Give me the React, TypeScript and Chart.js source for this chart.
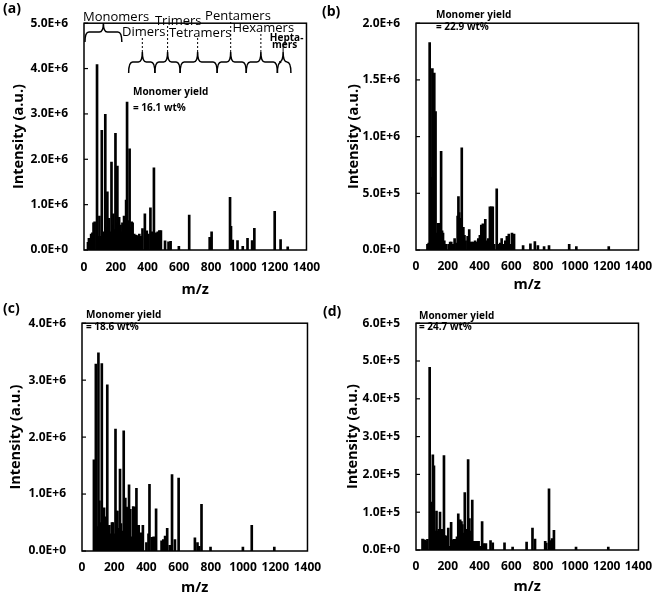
import React, { useEffect, useRef } from 'react';
import { Chart, registerables } from 'chart.js';

Chart.register(...registerables);

// ---------- data (m/z, intensity in a.u.) ----------
const mzA = [25, 31, 38, 45, 53, 60, 67, 82, 90, 97, 104, 112, 120, 127, 134, 140, 147, 157, 166, 173, 179, 185, 192, 198, 204, 210, 216, 221, 230, 236, 242, 252, 260, 265, 271, 279, 287, 293, 300, 306, 316, 326, 337, 348, 358, 368, 383, 395, 405, 418, 428, 440, 452, 464, 474, 484, 510, 532, 545, 597, 662, 791, 803, 919, 925, 936, 966, 999, 1029, 1058, 1072, 1200, 1237, 1282];
const intensityA = [170000, 260000, 220000, 350000, 380000, 600000, 620000, 4090000, 300000, 750000, 300000, 2640000, 200000, 400000, 2990000, 500000, 1280000, 700000, 400000, 1940000, 550000, 800000, 450000, 2570000, 600000, 1850000, 650000, 720000, 550000, 400000, 600000, 750000, 400000, 1100000, 3260000, 650000, 2230000, 500000, 620000, 600000, 350000, 330000, 320000, 350000, 300000, 470000, 800000, 420000, 350000, 930000, 400000, 1810000, 380000, 400000, 430000, 430000, 200000, 180000, 190000, 80000, 770000, 280000, 400000, 1160000, 520000, 220000, 210000, 80000, 260000, 210000, 480000, 850000, 230000, 70000];

const mzB = [72, 80, 86, 95, 103, 109, 115, 123, 130, 138, 148, 158, 164, 170, 178, 190, 206, 215, 222, 232, 243, 255, 262, 267, 272, 280, 288, 293, 298, 305, 312, 325, 335, 342, 352, 362, 372, 382, 392, 402, 411, 421, 436, 446, 455, 465, 474, 483, 492, 508, 520, 530, 539, 550, 562, 572, 584, 594, 604, 617, 674, 720, 748, 767, 806, 837, 964, 1009, 1213];
const intensityB = [50000, 60000, 1830000, 640000, 1600000, 300000, 1560000, 1220000, 150000, 235000, 235000, 870000, 170000, 150000, 80000, 50000, 50000, 70000, 70000, 50000, 100000, 60000, 300000, 470000, 330000, 280000, 900000, 200000, 200000, 130000, 80000, 120000, 180000, 70000, 70000, 70000, 80000, 70000, 100000, 130000, 220000, 230000, 270000, 80000, 100000, 380000, 380000, 380000, 50000, 540000, 50000, 60000, 100000, 50000, 80000, 120000, 140000, 50000, 150000, 140000, 40000, 55000, 75000, 40000, 30000, 40000, 50000, 30000, 30000];

const mzC = [74, 80, 86, 92, 102, 108, 117, 123, 130, 137, 147, 157, 163, 170, 180, 186, 192, 200, 208, 214, 220, 228, 236, 242, 250, 259, 264, 269, 277, 286, 292, 300, 310, 318, 330, 338, 345, 352, 366, 372, 378, 400, 413, 419, 433, 445, 460, 494, 505, 516, 529, 545, 559, 577, 600, 701, 717, 728, 742, 798, 999, 1054, 1194];
const intensityC = [1600000, 400000, 3280000, 430000, 3480000, 880000, 500000, 3290000, 400000, 760000, 600000, 2920000, 430000, 450000, 300000, 500000, 500000, 300000, 2140000, 700000, 700000, 400000, 1440000, 480000, 350000, 2110000, 500000, 930000, 770000, 750000, 1160000, 730000, 250000, 780000, 770000, 1100000, 450000, 450000, 320000, 300000, 450000, 150000, 300000, 1170000, 240000, 250000, 740000, 180000, 200000, 260000, 400000, 100000, 1340000, 200000, 1280000, 230000, 150000, 80000, 820000, 70000, 70000, 450000, 70000];

const mzD = [41, 48, 56, 64, 72, 86, 90, 95, 99, 106, 113, 120, 129, 137, 144, 151, 158, 164, 176, 183, 190, 196, 203, 212, 221, 230, 240, 250, 258, 266, 272, 278, 286, 292, 300, 307, 315, 328, 336, 343, 354, 362, 372, 385, 394, 405, 416, 426, 440, 469, 483, 557, 608, 696, 733, 749, 813, 820, 837, 844, 856, 868, 1007, 1210];
const intensityD = [29000, 27000, 26000, 23000, 28000, 483000, 65000, 127000, 50000, 252000, 223000, 50000, 103000, 50000, 55000, 100000, 50000, 55000, 250000, 38000, 37000, 35000, 58000, 10000, 73000, 27000, 28000, 28000, 35000, 96000, 60000, 80000, 75000, 67000, 45000, 152000, 55000, 239000, 83000, 50000, 132000, 23000, 23000, 23000, 23000, 10000, 75000, 17000, 17000, 25000, 19000, 19000, 8000, 21000, 58000, 29000, 23000, 18000, 162000, 25000, 30000, 52000, 8000, 8000];

const yieldValues = ['16.1', '22.9', '18.6', '24.7'];
const panelLetters = ['(a)', '(b)', '(c)', '(d)'];
const yMaxValues = [5e6, 2e6, 4e6, 6e5];
const yStepValues = [1e6, 5e5, 1e6, 1e5];

// oligomer annotation for panel (a), in m/z
const oligomerLabels = ['Monomers', 'Dimers', 'Trimers', 'Tetramers', 'Pentamers', 'Hexamers', 'Hepta-'];
const oligomerLabelMz = [202, 376, 593, 731, 969, 1128, 1275];
const braceStartMz = [6, 281, 446, 605, 838, 1021, 1217];
const braceEndMz = [238, 446, 605, 838, 1021, 1217, 1302];
const braceTipMz = [122, 367, 526, 715, 923, 1113, 1253];

// ---------- layout / style ----------
const FONT = '"Open Sans", "DejaVu Sans", sans-serif';
const layouts = [
  { box: { x: 0, y: 0, w: 331, h: 300 }, area: { l: 84, t: 9, r: 313, b: 250 }, yTitleX: 19, xTickY: 268, xTitleY: 290, labelX: 3, labelY: 9, yieldX: 133, yieldY: [92, 108], annotate: true },
  { box: { x: 320, y: 0, w: 342, h: 300 }, area: { l: 96, t: 9, r: 323, b: 250 }, yTitleX: 34, xTickY: 267, xTitleY: 285, labelX: 2, labelY: 12, yieldX: 116, yieldY: [15, 27], annotate: false },
  { box: { x: 0, y: 300, w: 331, h: 297 }, area: { l: 82, t: 9, r: 312, b: 251 }, yTitleX: 16, xTickY: 268, xTitleY: 288, labelX: 3, labelY: 9, yieldX: 86, yieldY: [15, 27], annotate: false },
  { box: { x: 320, y: 300, w: 342, h: 297 }, area: { l: 96, t: 10, r: 324, b: 250 }, yTitleX: 33, xTickY: 267, xTitleY: 287, labelX: 3, labelY: 12, yieldX: 99, yieldY: [16, 27], annotate: false },
];
const labelY = [17, 32, 21, 33, 16, 28, 38];
const dashTopY = [0, 36, 26, 37, 22, 33, 44];

function sci(v: number): string {
  if (v === 0) return '0.0E+0';
  const e = Math.floor(Math.log10(v) + 1e-9);
  const m = v / Math.pow(10, e);
  return m.toFixed(1) + 'E+' + e;
}

function drawBrace(ctx: CanvasRenderingContext2D, x1: number, x2: number, xc: number, yl: number, hd: number, hu: number) {
  const r = 4;
  ctx.beginPath();
  ctx.moveTo(x1, yl + hd);
  ctx.quadraticCurveTo(x1, yl, x1 + r, yl);
  ctx.lineTo(xc - r, yl);
  ctx.quadraticCurveTo(xc, yl, xc, yl - hu);
  ctx.quadraticCurveTo(xc, yl, xc + r, yl);
  ctx.lineTo(x2 - r, yl);
  ctx.quadraticCurveTo(x2, yl, x2, yl + hd);
  ctx.stroke();
}

function makeDecor(idx: number) {
  const L = layouts[idx];
  return {
    id: 'decor' + idx,
    afterDraw(chart: any) {
      const ctx: CanvasRenderingContext2D = chart.ctx;
      const a = chart.chartArea;
      const xs = chart.scales.x;
      const ys = chart.scales.y;
      ctx.save();
      ctx.strokeStyle = '#000';
      ctx.fillStyle = '#000';
      ctx.lineWidth = 1.5;
      ctx.strokeRect(a.left, a.top, a.right - a.left, a.bottom - a.top);
      ctx.lineWidth = 1.2;
      ys.ticks.forEach((t: any) => {
        const y = ys.getPixelForValue(t.value);
        ctx.beginPath();
        ctx.moveTo(a.left, y);
        ctx.lineTo(a.left + 4, y);
        ctx.stroke();
      });
      // panel letter
      ctx.textBaseline = 'middle';
      ctx.textAlign = 'left';
      ctx.font = 'bold 14px ' + FONT;
      ctx.fillText(panelLetters[idx], L.labelX, L.labelY);
      // monomer yield
      ctx.font = 'bold 10px ' + FONT;
      ctx.fillText('Monomer yield', L.yieldX, L.yieldY[0]);
      ctx.fillText('= ' + yieldValues[idx] + ' wt%', L.yieldX, L.yieldY[1]);
      if (L.annotate) {
        ctx.lineWidth = 1.5;
        for (let i = 0; i < braceStartMz.length; i++) {
          const x1 = xs.getPixelForValue(braceStartMz[i]);
          const x2 = xs.getPixelForValue(braceEndMz[i]);
          const xc = xs.getPixelForValue(braceTipMz[i]);
          if (i === 0) drawBrace(ctx, x1, x2, xc, 32, 10, 9);
          else drawBrace(ctx, x1, x2, xc, 62, 11, 10);
          if (i > 0) {
            ctx.save();
            ctx.lineWidth = 1;
            if (i < 6) ctx.setLineDash([2, 2]);
            ctx.beginPath();
            ctx.moveTo(xc, 52);
            ctx.lineTo(xc, dashTopY[i]);
            ctx.stroke();
            ctx.restore();
          }
        }
        ctx.textAlign = 'center';
        for (let i = 0; i < oligomerLabels.length; i++) {
          const cx = xs.getPixelForValue(oligomerLabelMz[i]);
          if (i === 6) {
            ctx.font = 'bold 10px ' + FONT;
            ctx.fillText(oligomerLabels[i], cx, labelY[i]);
            ctx.fillText('mers', cx - 2, labelY[i] + 7);
          } else {
            ctx.font = '13px ' + FONT;
            ctx.fillText(oligomerLabels[i], cx, labelY[i]);
          }
        }
      }
      ctx.restore();
    },
  };
}

const series = [
  { mz: mzA, intensity: intensityA },
  { mz: mzB, intensity: intensityB },
  { mz: mzC, intensity: intensityC },
  { mz: mzD, intensity: intensityD },
];

function Panel({ idx }: { idx: number }) {
  const ref = useRef<HTMLCanvasElement>(null);
  const L = layouts[idx];
  useEffect(() => {
    const s = series[idx];
    const tickFont = { family: FONT, size: 12, weight: 'bold' as const };
    const titleFont = { family: FONT, size: 14.5, weight: 'bold' as const };
    const chart = new Chart(ref.current as HTMLCanvasElement, {
      type: 'bar',
      data: {
        datasets: [
          {
            data: s.mz.map((x, i) => ({ x, y: s.intensity[i] })),
            backgroundColor: '#000',
            borderWidth: 0,
            barThickness: 2,
          } as any,
        ],
      },
      options: {
        animation: false,
        responsive: false,
        devicePixelRatio: 1,
        layout: { padding: { top: L.area.t, right: L.box.w - L.area.r, left: 0, bottom: 0 } },
        plugins: { legend: { display: false }, tooltip: { enabled: false } },
        scales: {
          x: {
            type: 'linear',
            min: 0,
            max: 1400,
            offset: false,
            grid: { display: false, drawTicks: false, offset: false },
            border: { display: false },
            ticks: { stepSize: 200, autoSkip: false, color: '#000', font: tickFont, padding: L.xTickY - L.area.b - 7.2, maxRotation: 0, callback: (v: any) => String(v) },
            title: { display: true, text: 'm/z', color: '#000', font: titleFont, padding: { top: 0, bottom: L.box.h - L.xTitleY - 8.7 } },
            afterFit: (sc: any) => { sc.height = L.box.h - L.area.b; },
          },
          y: {
            type: 'linear',
            min: 0,
            max: yMaxValues[idx],
            grid: { display: false, drawTicks: false },
            border: { display: false },
            ticks: { stepSize: yStepValues[idx], autoSkip: false, color: '#000', font: tickFont, padding: 16, callback: (v: any) => sci(Number(v)) },
            title: { display: true, text: 'Intensity (a.u.)', color: '#000', font: titleFont, padding: { top: L.yTitleX - 8.7, bottom: 0 } },
            afterFit: (sc: any) => { sc.width = L.area.l; },
          },
        },
      } as any,
      plugins: [makeDecor(idx)],
    });
    return () => chart.destroy();
  }, [idx]);
  return (
    <canvas
      ref={ref}
      width={L.box.w}
      height={L.box.h}
      style={{ position: 'absolute', left: L.box.x, top: L.box.y, width: L.box.w, height: L.box.h }}
    />
  );
}

export default function App() {
  return (
    <div style={{ position: 'absolute', left: 0, top: 0, width: 662, height: 597, background: '#fff' }}>
      {[0, 1, 2, 3].map((i) => (
        <Panel key={i} idx={i} />
      ))}
    </div>
  );
}
